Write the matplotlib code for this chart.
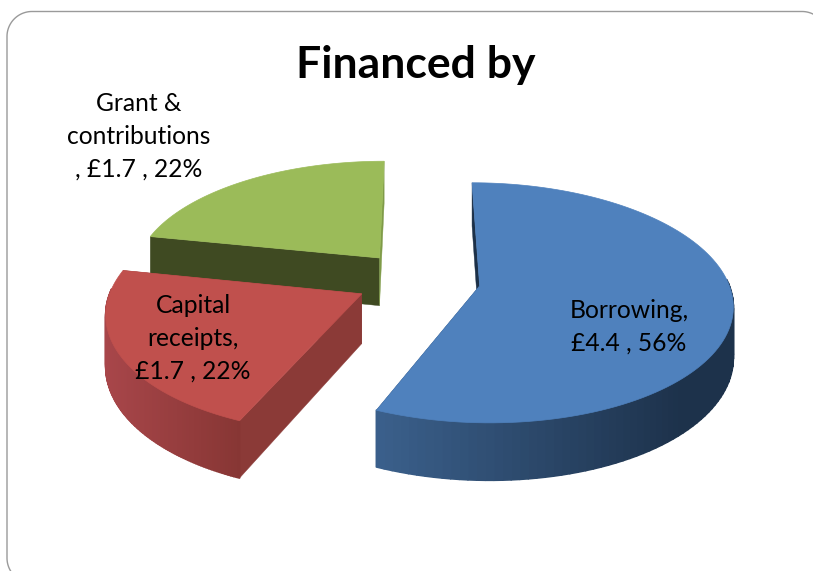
import numpy as np
import matplotlib
matplotlib.use('Agg')
from matplotlib import pyplot as plt
from matplotlib.collections import PolyCollection
from matplotlib.colors import to_rgb
from matplotlib.patches import Polygon

plt.rcParams['font.family'] = ['Lato', 'DejaVu Sans']

# chart data
categories = ['Borrowing', 'Capital receipts', 'Grant & contributions']
values = [4.4, 1.7, 1.7]
percents = ['56%', '22%', '22%']
title = 'Financed by'
labels = ['Borrowing,\n£4.4 , 56%', 'Capital\nreceipts,\n£1.7 , 22%', 'Grant &\ncontributions\n, £1.7 , 22%']

# look of the slices
top_colors = ['#4f81bd', '#c0504d', '#9bbb59']
face_colors = ['#1c3048', '#8b3a37', '#3f4a22']
wall_left = ['#3b608c', '#a8464a', '#3f4a22']
wall_right = ['#1d324b', '#873634', '#3f4a22']
wall_span = [(375, 680), (105, 240), (150, 380)]
label_pos = [(629, 327), (193, 338), (139, 136)]

# projection settings, in pixels
cx, cy = 418, 280
rx, ry = 248, 116
persp = 0.14
depth = 49
explode = 0.252
start_angle = 90


def project(x, y, z=0.0):
    w = 1 + persp * np.asarray(y)
    return cx + rx * np.asarray(x) / w, cy - ry * np.asarray(y) / w + depth * z / w


def mix(c1, c2, t):
    c1, c2 = np.array(to_rgb(c1)), np.array(to_rgb(c2))
    return c1 + (c2 - c1) * t


fig = plt.figure(figsize=(8.13, 5.71), dpi=100)
ax = fig.add_axes([0, 0, 1, 1])
ax.set_xlim(0, 813)
ax.set_ylim(571, 0)
ax.axis('off')

# rounded frame, runs off the right and bottom of the picture
r = 25
a1 = np.linspace(np.pi, 1.5 * np.pi, 40)
a2 = np.linspace(1.5 * np.pi, 2 * np.pi, 40)
a3 = np.linspace(0.5 * np.pi, np.pi, 40)
frame_x = np.concatenate([32 + r * np.cos(a3), 32 + r * np.cos(a1), 802 + r * np.cos(a2)])
frame_y = np.concatenate([558 + r * np.sin(a3), 36.5 + r * np.sin(a1), 36.5 + r * np.sin(a2)])
ax.plot(frame_x, frame_y, color='#9a9a9a', lw=1.0)

# work out slice angles from the values, clockwise from the top
fractions = np.array(values) / sum(values)
ends = start_angle - np.cumsum(fractions) * 360
starts = ends + fractions * 360

# back slice first, so front ones cover it
for i in [2, 1, 0]:
    t = np.radians(np.linspace(starts[i], ends[i], 120))
    mid = np.radians((starts[i] + ends[i]) / 2)
    ox, oy = explode * np.cos(mid), explode * np.sin(mid)
    ux, uy = ox + np.cos(t), oy + np.sin(t)

    # the two cut faces
    for a in [0, -1]:
        xs = [ox, ux[a], ux[a], ox]
        ys = [oy, uy[a], uy[a], oy]
        zs = [0, 0, 1, 1]
        px, py = project(np.array(xs), np.array(ys), np.array(zs))
        c = face_colors[i]
        if i == 2 and a == -1:
            c = '#7f9b48'
        ax.add_patch(Polygon(np.column_stack([px, py]), closed=True, fc=c, ec=c, lw=0.3))

    # outer wall, shaded along x, only the part that faces us
    tx, ty = project(ux, uy, 0.0)
    bx, by = project(ux, uy, 1.0)
    quads = []
    cols = []
    for j in range(len(t) - 1):
        if np.sin(t[j]) > 0.03 and np.sin(t[j + 1]) > 0.03:
            continue
        quads.append([(tx[j], ty[j]), (tx[j + 1], ty[j + 1]), (bx[j + 1], by[j + 1]), (bx[j], by[j])])
        s = np.clip(((tx[j] + tx[j + 1]) / 2 - wall_span[i][0]) / (wall_span[i][1] - wall_span[i][0]), 0, 1)
        cols.append(mix(wall_left[i], wall_right[i], s))
    if quads:
        ax.add_collection(PolyCollection(quads, facecolors=cols, edgecolors=cols, linewidths=1.2))

    # top of the slice
    ax0, ay0 = project(ox, oy)
    poly = np.vstack([[ax0, ay0], np.column_stack([tx, ty])])
    ax.add_patch(Polygon(poly, closed=True, fc=top_colors[i], ec=top_colors[i], lw=0.5))

for label, pos in zip(labels, label_pos):
    ax.text(pos[0], pos[1], label, ha='center', va='center', fontsize=17.7, color='black', linespacing=1.52)

ax.text(416, 65, title, ha='center', va='center', fontsize=32, fontweight='bold', color='black')

fig.savefig('out.png', dpi=100)
